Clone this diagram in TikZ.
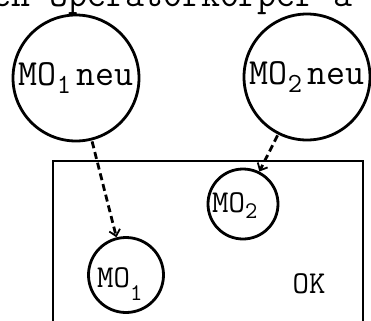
\documentclass[tikz,border=0pt]{standalone}
\usepackage{fontspec}
\usetikzlibrary{arrows.meta}

% lowered, reduced digit in a typewriter cell
\newcommand{\lowdigit}[2]{\raisebox{#1}{\makebox[0.525em][l]{\scalebox{0.75}{#2}}}}

\tikzset{
  bigtxt/.style={font=\ttfamily\fontsize{37}{42}\selectfont},
  smalltxt/.style={font=\ttfamily\fontsize{32}{36}\selectfont},
  bigring/.style={circle, draw, line width=2.8bp, minimum size=126bp, inner sep=0pt},
  smallring/.style={circle, draw, line width=2.8bp, inner sep=0pt},
  frame/.style={draw, line width=2.4bp},
  flow/.style={line width=2.8bp, dash pattern=on 7bp off 4bp,
    -{Straight Barb[length=6bp, width=11bp, line width=1.8bp]}, shorten <=1bp},
}

\begin{document}
\begin{tikzpicture}[x=1bp, y=-1bp]
  \useasboundingbox (0,0) rectangle (371,321);
  \clip (0,0) rectangle (371,321);

  % running text line, cut by the top edge
  \node[bigtxt, anchor=base west, inner sep=0pt] (head) at (-8,6) {en Operatorkörper a};

  % new operator bodies
  \node[bigring, bigtxt] (neu1) at (76,78) {MO\lowdigit{-8bp}{1}neu};
  \node[bigring, bigtxt] (neu2) at (307,77) {MO\lowdigit{-8bp}{2}neu};

  % operator body frame
  \draw[frame] (53,161) rectangle (363,345);

  % operator members inside the frame
  \node[smallring, minimum size=75bp] (mo1) at (126,275) {};
  \node[smalltxt, inner sep=0pt, anchor=base west] (mo1t) at (97,287) {MO\lowdigit{-13bp}{1}};
  \node[smallring, minimum size=70bp] (mo2) at (243,204) {};
  \node[smalltxt, inner sep=0pt, anchor=base west] (mo2t) at (212,212) {MO\lowdigit{-6bp}{2}};

  \node[smalltxt, inner sep=0pt, anchor=base] (ok) at (309,293) {OK};

  % replacement arrows
  \draw[flow] (neu1) -- (mo1);
  \draw[flow] (neu2) -- (mo2);
\end{tikzpicture}
\end{document}
